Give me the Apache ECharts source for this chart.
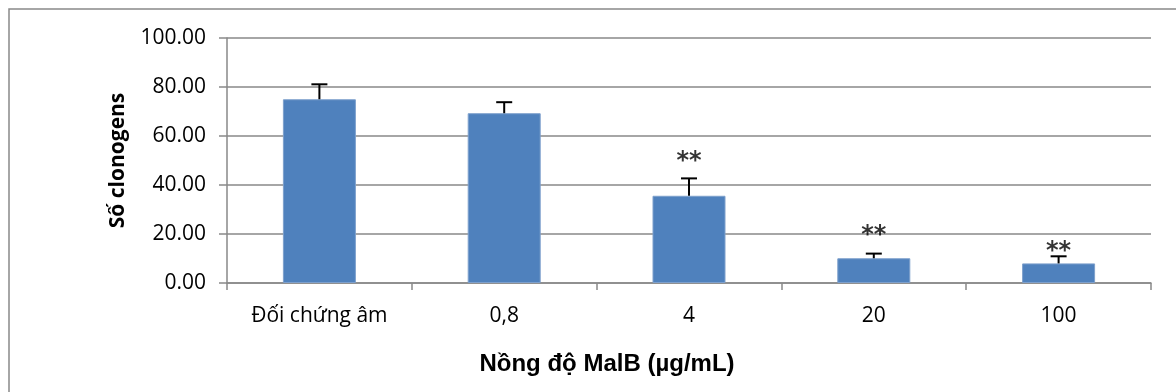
<!DOCTYPE html>
<html>
<head>
<meta charset="utf-8">
<script src="https://cdn.jsdelivr.net/npm/echarts@6/dist/echarts.min.js"></script>
<style>
html,body{margin:0;padding:0;background:#fff;}
#c{width:1176px;height:392px;}
</style>
</head>
<body>
<div id="c"></div>
<script>
const categories = ['Đối chứng âm', '0,8', '4', '20', '100'];
const means = [75.0, 69.3, 35.6, 10.1, 8.0];
const errors = [6.1, 4.5, 7.1, 1.9, 2.9];
const marks = ['', '', '**', '**', '**'];
const markValues = [null, null, 51, 20.9, 14.4];
const yTicks = [0, 20, 40, 60, 80, 100];

const chart = echarts.init(document.getElementById('c'));
const labelFont = '"Open Sans", "Noto Sans", sans-serif';

chart.setOption({
  animation: false,
  backgroundColor: '#fff',
  graphic: [{
    type: 'rect', z: -10,
    shape: { x: 9, y: 9, width: 1200, height: 420 },
    style: { fill: 'none', stroke: '#898989', lineWidth: 1.5 }
  }],
  grid: { left: 227, right: 25, top: 38, bottom: 109 },
  xAxis: {
    type: 'category',
    data: categories,
    name: 'Nồng độ MalB (µg/mL)',
    nameLocation: 'middle',
    nameGap: 69,
    nameTextStyle: { fontFamily: '"Liberation Sans", Arial, sans-serif', fontWeight: 'bold', fontSize: 24, color: '#000', padding: [0, 164, 0, 0] },
    axisLine: { lineStyle: { color: '#898989', width: 1.5 } },
    axisTick: { show: true, length: 7, alignWithLabel: false, lineStyle: { color: '#898989', width: 1.5 } },
    axisLabel: { fontFamily: labelFont, fontSize: 21, color: '#000', margin: 23 }
  },
  yAxis: {
    type: 'value',
    min: 0, max: 100, interval: 20,
    name: 'Số clonogens',
    nameLocation: 'middle',
    nameGap: 98,
    nameTextStyle: { fontFamily: labelFont, fontWeight: 'bold', fontSize: 21, color: '#000' },
    axisLine: { show: true, lineStyle: { color: '#898989', width: 1.5 } },
    axisTick: { show: true, length: 8, lineStyle: { color: '#898989', width: 1.5 } },
    splitLine: { lineStyle: { color: '#898989', width: 1.5 } },
    axisLabel: { fontFamily: labelFont, fontSize: 21, color: '#000', margin: 21,
      formatter: v => yTicks.includes(v) ? v.toFixed(2) : '' }
  },
  series: [{
    type: 'bar',
    data: means,
    barWidth: 73,
    itemStyle: { color: '#4F81BD', borderColor: '#7EA0CC', borderWidth: 1 },
    z: 2
  }, {
    type: 'custom',
    z: 3,
    data: means.map((m, i) => [i, m, m + errors[i]]),
    renderItem: function (params, api) {
      const x = api.value(0);
      const base = api.coord([x, api.value(1)]);
      const top = api.coord([x, api.value(2)]);
      const hw = 8;
      return {
        type: 'group',
        children: [
          { type: 'line', shape: { x1: base[0], y1: base[1], x2: top[0], y2: top[1] }, style: { stroke: '#000', lineWidth: 2 } },
          { type: 'line', shape: { x1: top[0] - hw, y1: top[1], x2: top[0] + hw, y2: top[1] }, style: { stroke: '#000', lineWidth: 2 } }
        ]
      };
    }
  }, {
    type: 'scatter',
    z: 4,
    symbolSize: 0,
    data: markValues.map((v, i) => v == null ? null : { value: [i, v], label: { formatter: marks[i] } }),
    label: {
      show: true, position: 'inside',
      fontFamily: '"DejaVu Sans", sans-serif', fontWeight: 'bold', fontSize: 24, color: '#000',
      offset: [0, 4]
    }
  }]
});
</script>
</body>
</html>
